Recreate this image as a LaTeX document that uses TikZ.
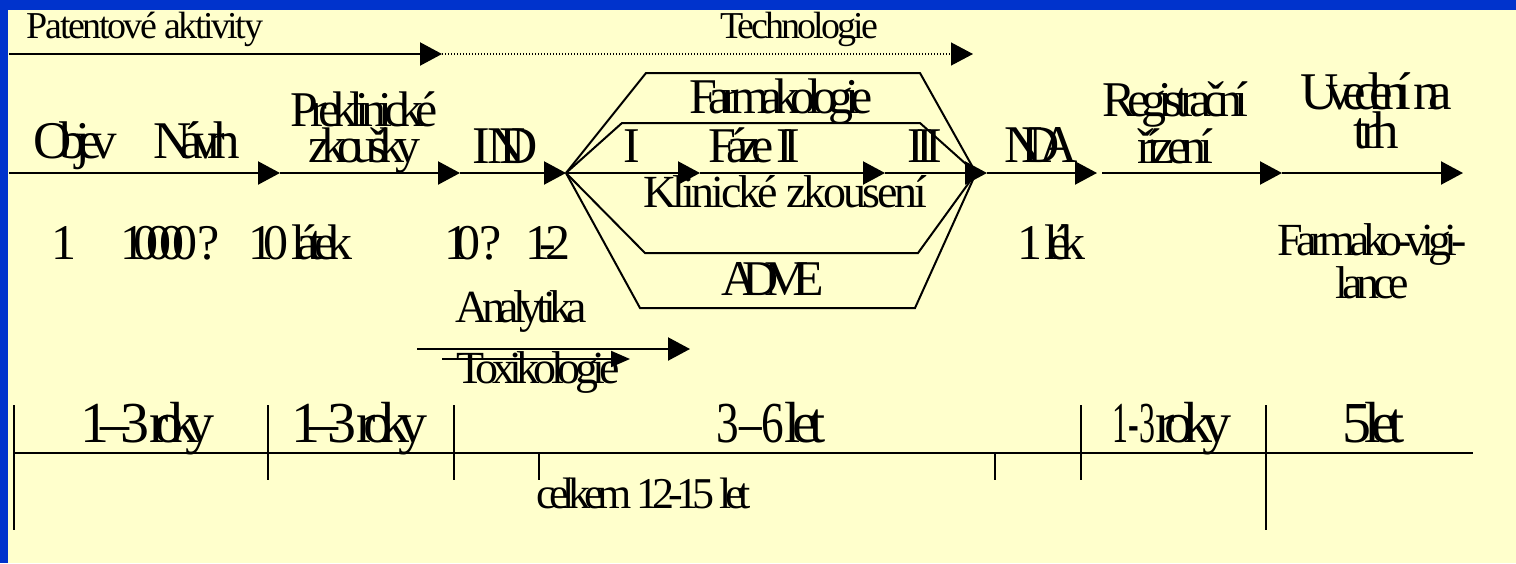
\documentclass[tikz,border=0pt]{standalone}
\usepackage{graphicx}
\usepackage{fontspec}
\setmainfont{Liberation Serif}
\usetikzlibrary{arrows.meta}
\definecolor{bgyellow}{HTML}{FFFFCC}
\definecolor{frameblue}{HTML}{0033CC}
\newbox\fitboxA
\newbox\fitboxB
\newcommand\fitto[2]{%
  \setbox\fitboxA=\hbox{#2}%
  \setbox\fitboxB=\hbox{\addfontfeature{LetterSpace=-10}#2}%
  \pgfmathsetmacro\fitls{-10*(#1-\the\wd\fitboxA)/(\the\wd\fitboxB-\the\wd\fitboxA)}%
  \edef\fittmp{\noexpand\addfontfeature{LetterSpace=\fitls}}%
  \hbox{\fittmp #2}}
\begin{document}
\begin{tikzpicture}[x=1pt,y=-1pt,
  every node/.style={inner sep=0pt, outer sep=0pt, anchor=base, align=center, text=black},
  ftop/.style={font=\fontsize{38}{38}\selectfont},
  fmain/.style={font=\fontsize{53}{35}\selectfont},
  fmid/.style={font=\fontsize{50}{36}\selectfont},
  fsmall/.style={font=\fontsize{46}{35}\selectfont},
  fdur/.style={font=\fontsize{58}{58}\selectfont},
  ftot/.style={font=\fontsize{44}{44}\selectfont},
  arr/.style={line width=2.2pt, -{Triangle[length=22pt,width=23pt]}},
  sarr/.style={line width=2pt, -{Triangle[length=19pt,width=16pt]}},
  dots/.style={line width=1.3pt, dash pattern=on 1.3pt off 1.7pt, -{Triangle[length=22pt,width=23pt]}},
  poly/.style={line width=2pt, line join=miter},
  tick/.style={line width=1.6pt},
  axis/.style={line width=2.4pt}]
\fill[bgyellow] (0,0) rectangle (1516,563);
\fill[frameblue] (0,0) rectangle (1516,10);
\fill[frameblue] (0,0) rectangle (8,563);
\useasboundingbox (0,0) rectangle (1516,563);

% top arrows
\coordinate (t0) at (9,54);
\coordinate (t1) at (442,54);
\coordinate (t2) at (973,54);
\draw[arr] (t0) -- (t1);
\draw[dots] (t1) -- (t2);

% main line
\coordinate (p0) at (9,173);
\coordinate (p1) at (280,173);
\coordinate (p2) at (460,173);
\coordinate (p3) at (566,173);
\coordinate (p4) at (700,173);
\coordinate (p5) at (885,173);
\coordinate (p6) at (987,173);
\coordinate (p7) at (1097,173);
\coordinate (p8) at (1102,173);
\coordinate (p9) at (1282,173);
\coordinate (p10) at (1463,173);
\draw[arr] (p0) -- (p1);
\draw[arr] (p1) -- (p2);
\draw[arr] (p2) -- (p3);
\draw[arr] (p3) -- (p4);
\draw[arr] (p4) -- (p5);
\draw[arr] (p5) -- (p6);
\draw[arr] (p6) -- (p7);
\draw[arr] (p8) -- (p9);
\draw[arr] (p9) -- (p10);

% clinical polygons
\coordinate (L) at (566,173);
\coordinate (R) at (976,173);
\coordinate (a1) at (646,73);  \coordinate (a2) at (920,73);
\coordinate (b1) at (622,123); \coordinate (b2) at (920,123);
\coordinate (c1) at (645,253); \coordinate (c2) at (918,253);
\coordinate (d1) at (640,308); \coordinate (d2) at (915,308);
\draw[poly] (L) -- (a1) -- (a2) -- (R);
\draw[poly] (L) -- (b1) -- (b2) -- (R);
\draw[poly] (L) -- (c1) -- (c2) -- (R);
\draw[poly] (L) -- (d1) -- (d2) -- (R);

% analytika / toxikologie arrows
\coordinate (an0) at (417,349);
\coordinate (an1) at (690,349);
\coordinate (tx0) at (442,359);
\coordinate (tx1) at (630,359);
\draw[arr] (an0) -- (an1);
\draw[sarr] (tx0) -- (tx1);

% bottom time axis
\coordinate (ax0) at (14,453);
\coordinate (ax1) at (1473,453);
\draw[axis] (ax0) -- (ax1);
\foreach \x/\ya/\yb in {14/405/530, 268/405/480, 454/405/480, 539/453/480, 995/453/480, 1081/405/480, 1266/405/530}
  \draw[tick] (\x,\ya) -- (\x,\yb);

% labels top
\node[ftop] (patent) at (145,38) {\fitto{236}{Patentové aktivity}};
\node[ftop] (tech) at (799,38) {\fitto{158}{Technologie}};

% labels main row
\node[fmain] (objev) at (75,158) {\fitto{84}{Objev}};
\node[fmain] (navrh) at (196.5,158) {\fitto{87}{Návrh}};
\node[fmid] (preklin) at (364,162) {\fitto{147}{Preklinické}\\\fitto{112}{zkoušky}};
\node[fmain] (ind) at (505,163) {I\kern-2pt\fitto{50}{ND}};
\node[fmid] (farmak) at (781,113) {\fitto{183}{Farmakologie}};
\node[fmid] (f1) at (632,162) {I};
\node[fmid] (f2) at (754,162) {\fitto{92}{Fáze II}};
\node[fmid] (f3) at (925,162) {\fitto{35}{III}};
\node[fsmall] (klin) at (785,207) {\fitto{284}{Klinické zkousení}};
\node[fmid] (adme) at (773,295) {\fitto{103}{ADME}};
\node[fmain] (nda) at (1041,162) {\fitto{73}{NDA}};
\node[fmid] (regist) at (1175,163) {\fitto{146}{Registrační}\\\fitto{76}{řízení}};
\node[fmain] (uved) at (1376,148) {\fitto{152}{Uvedení na}\\\fitto{45}{trh}};

% numbers row
\node[fmid] (n1) at (64,259) {1};
\node[fmid] (n2) at (170,259) {\fitto{100}{10000 ?}};
\node[fmid] (n3) at (300,259) {\fitto{104}{10 látek}};
\node[fmid] (n4) at (473,259) {\fitto{57}{10 ?}};
\node[fmid] (n5) at (547.5,259) {\fitto{45}{1-2}};
\node[fmid] (n6) at (1051,259) {\fitto{68}{1 lék}};
\node[fsmall] (vigil) at (1372,298) {\fitto{189}{Farmako-vigi-}\\\fitto{74}{lance}};

\node[fsmall] (analyt) at (521,322) {\fitto{132}{Analytika}};
\node[fsmall] (toxik) at (538,383) {\fitto{163}{Toxikologie}};

% durations
\node[fdur] (dur1) at (147,442) {\fitto{69}{1–3}\fitto{65}{roky}};
\node[fdur] (dur2) at (359,442) {\fitto{65}{1–3}\fitto{71}{roky}};
\node[fdur] (dur3) at (771,442) {\scalebox{0.78}[1]{3–6}\fitto{41}{let}};
\node[fdur] (dur4) at (1172,442) {\scalebox{0.55}[1]{1-3}\fitto{76}{roky}};
\node[fdur] (dur5) at (1373.5,442) {5\kern-7pt\fitto{41}{let}};
\node[ftot] (total) at (643.5,508) {\fitto{215}{celkem 12-15 let}};
\end{tikzpicture}
\end{document}
